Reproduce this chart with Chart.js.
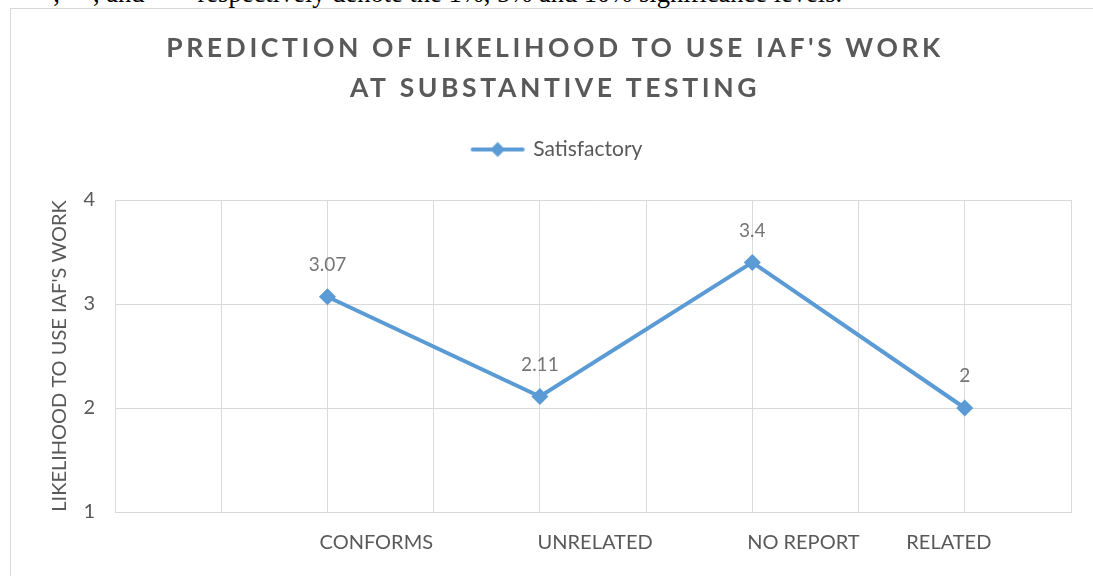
<!DOCTYPE html>
<html>
<head>
<meta charset="utf-8">
<script src="https://cdn.jsdelivr.net/npm/chart.js@4"></script>
<style>
  html, body { margin: 0; padding: 0; width: 1093px; height: 576px; overflow: hidden; background: #fff; }
  #note { position: absolute; left: 40px; top: -22px; font-family: "Liberation Serif", serif; font-size: 26.5px; line-height: 31px; color: #000; white-space: nowrap; }
  #frame { position: absolute; left: 10px; top: 8px; width: 1200px; height: 700px; border: 1px solid #d9d9d9; box-sizing: border-box; background: transparent; }
  #c { position: absolute; left: 0; top: 0; }
</style>
</head>
<body>
<div id="note">*, **, and *** respectively denote the 1%, 5% and 10% significance levels.</div>
<div id="frame"></div>
<canvas id="c" width="1093" height="576"></canvas>
<script>
const titleLines = ["PREDICTION OF LIKELIHOOD TO USE IAF'S WORK", "AT SUBSTANTIVE TESTING"];
const seriesName = "Satisfactory";
const yAxisTitle = "LIKELIHOOD TO USE IAF'S WORK";
const categories = ["CONFORMS", "UNRELATED", "NO REPORT", "RELATED"];
const values = [3.07, 2.11, 3.4, 2];
const pointSlots = [2, 4, 6, 8];          // category slot of each point on the 0..9 axis
const labelSlots = [2.46, 4.52, 6.48, 7.85]; // where each category label sits on that axis
const yTicks = [1, 2, 3, 4];

const LINE = '#5B9BD5';
const TXT = '#595959';
const GRID = '#d9d9d9';
const FONT = 'Lato, "Open Sans", sans-serif';

// legend marker: line with diamond
const legendIcon = document.createElement('canvas');
legendIcon.width = 56; legendIcon.height = 18;
(function(){
  const g = legendIcon.getContext('2d');
  g.strokeStyle = LINE; g.lineWidth = 4; g.lineCap = 'round';
  g.beginPath(); g.moveTo(3, 9); g.lineTo(53, 9); g.stroke();
  g.fillStyle = LINE;
  g.beginPath(); g.moveTo(28, 1.5); g.lineTo(35.5, 9); g.lineTo(28, 16.5); g.lineTo(20.5, 9); g.closePath(); g.fill();
})();

const titlePlugin = {
  id: 'spacedTitle',
  afterDraw(chart) {
    const ctx = chart.ctx;
    ctx.save();
    ctx.font = 'bold 26.5px ' + FONT;
    ctx.fillStyle = TXT;
    ctx.textAlign = 'center';
    ctx.textBaseline = 'middle';
    if ('letterSpacing' in ctx) ctx.letterSpacing = '3.6px';
    const cx = 555;
    titleLines.forEach((t, i) => ctx.fillText(t, cx, 48 + i * 40));
    ctx.restore();
  }
};

const dataLabelPlugin = {
  id: 'dataLabels',
  afterDatasetsDraw(chart) {
    const ctx = chart.ctx;
    const meta = chart.getDatasetMeta(0);
    ctx.save();
    ctx.font = '19px ' + FONT;
    ctx.fillStyle = '#757575';
    ctx.textAlign = 'center';
    ctx.textBaseline = 'middle';
    meta.data.forEach((pt, i) => {
      ctx.fillText(String(values[i]), pt.x, pt.y - 32);
    });
    ctx.restore();
  }
};

new Chart(document.getElementById('c'), {
  type: 'line',
  data: {
    datasets: [{
      label: seriesName,
      data: values.map((v, i) => ({ x: pointSlots[i], y: v })),
      borderColor: LINE,
      backgroundColor: LINE,
      borderWidth: 4,
      pointStyle: 'rectRot',
      pointRadius: 8.5,
      pointHoverRadius: 8.5,
      pointBorderWidth: 0,
      tension: 0,
      xAxisID: 'x',
      yAxisID: 'y'
    }]
  },
  options: {
    responsive: false,
    animation: false,
    events: [],
    layout: { padding: { top: 85, right: 22, left: 44, bottom: 0 } },
    plugins: {
      title: { display: false },
      subtitle: {
        display: true,
        text: '',
        position: 'top',
        weight: 500,
        padding: 0,
        font: { size: 10, lineHeight: '30px' }
      },
      tooltip: { enabled: false },
      legend: {
        display: true,
        position: 'top',
        labels: {
          usePointStyle: true,
          pointStyle: legendIcon,
          pointStyleWidth: 50,
          padding: 54,
          color: TXT,
          font: { family: FONT, size: 21 }
        }
      }
    },
    scales: {
      x: {
        type: 'linear',
        position: 'bottom',
        min: 0, max: 9,
        ticks: { display: false, stepSize: 1 },
        grid: { color: GRID, lineWidth: 1, drawTicks: false },
        border: { color: GRID, width: 1 },
        afterFit(s) { s.height = 0; }
      },
      xl: {
        type: 'linear',
        position: 'bottom',
        min: 0, max: 9,
        grid: { display: false, drawTicks: false },
        border: { display: false },
        afterBuildTicks(s) { s.ticks = labelSlots.map(v => ({ value: v })); },
        ticks: {
          autoSkip: false, maxRotation: 0, minRotation: 0,
          padding: 19,
          color: TXT,
          font: { family: FONT, size: 20 },
          callback(v, i) { return categories[i]; }
        },
        afterFit(s) { s.height = 64; }
      },
      y: {
        type: 'linear',
        min: 1, max: 4,
        afterBuildTicks(s) { s.ticks = yTicks.map(v => ({ value: v })); },
        ticks: { padding: 20, color: TXT, font: { family: FONT, size: 20 } },
        grid: { color: GRID, lineWidth: 1, drawTicks: false },
        border: { color: GRID, width: 1 },
        title: {
          display: true,
          text: yAxisTitle,
          color: TXT,
          font: { family: FONT, size: 20 },
          padding: { top: 4, bottom: 0 }
        },
        afterFit(s) { s.width = 71; }
      }
    }
  },
  plugins: [titlePlugin, dataLabelPlugin]
});
</script>
</body>
</html>
